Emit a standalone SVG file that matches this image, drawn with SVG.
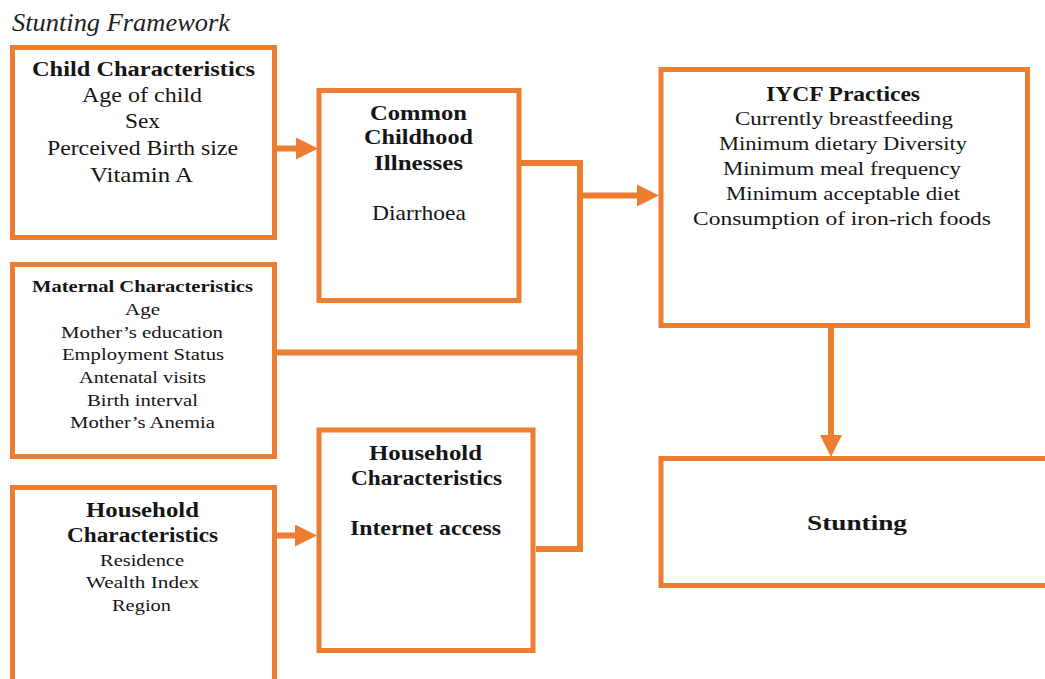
<svg xmlns="http://www.w3.org/2000/svg" width="1045" height="679" viewBox="0 0 1045 679">
<style>
.box{fill:#fff;stroke:#ED7D31;stroke-width:5}
.con{fill:none;stroke:#ED7D31;stroke-width:6;stroke-linejoin:miter}
text{font-family:"Liberation Serif","Times New Roman",serif;fill:#151515;text-anchor:middle}
.b{font-weight:bold}
.r21{font-size:21px}
.b20{font-size:20px;font-weight:bold}
.m{font-size:16.5px}
.i{font-size:18.5px}
.t{font-size:25px;font-style:italic;text-anchor:start;fill:#222}
</style>
<defs>
<marker id="ah" markerUnits="userSpaceOnUse" markerWidth="22" markerHeight="22" viewBox="0 0 22 22" refX="11" refY="11" orient="auto">
<path d="M0,0 L22,11 L0,22 z" fill="#ED7D31"/>
</marker>
</defs>
<rect width="1045" height="679" fill="#fff"/>
<text class="t" x="12" y="31" textLength="218" lengthAdjust="spacingAndGlyphs">Stunting Framework</text>

<g id="connectors">
<path class="con" d="M277,148.5 H307" marker-end="url(#ah)"/>
<path class="con" d="M521,163 H580 V549 H536"/>
<path class="con" d="M277,352.5 H580"/>
<path class="con" d="M580,195.5 H648" marker-end="url(#ah)"/>
<path class="con" d="M277,535.5 H306" marker-end="url(#ah)"/>
<path class="con" d="M831,328 V446" marker-end="url(#ah)"/>
</g>

<g id="child">
<rect class="box" x="12.5" y="47.5" width="262" height="190"/>
<text class="b20" x="143.5" y="76" textLength="223" lengthAdjust="spacingAndGlyphs">Child Characteristics</text>
<text class="r21" x="142" y="102" textLength="120" lengthAdjust="spacingAndGlyphs">Age of child</text>
<text class="r21" x="142.5" y="128" textLength="35" lengthAdjust="spacingAndGlyphs">Sex</text>
<text class="r21" x="142.5" y="155" textLength="191" lengthAdjust="spacingAndGlyphs">Perceived Birth size</text>
<text class="r21" x="141.5" y="182" textLength="103" lengthAdjust="spacingAndGlyphs">Vitamin A</text>
</g>

<g id="illness">
<rect class="box" x="319" y="90.5" width="200" height="210"/>
<text class="b20" x="418.5" y="120" textLength="97" lengthAdjust="spacingAndGlyphs">Common</text>
<text class="b20" x="418.5" y="144" textLength="109" lengthAdjust="spacingAndGlyphs">Childhood</text>
<text class="b20" x="418.5" y="170" textLength="89" lengthAdjust="spacingAndGlyphs">Illnesses</text>
<text class="r21" x="419" y="220" textLength="94" lengthAdjust="spacingAndGlyphs">Diarrhoea</text>
</g>

<g id="maternal">
<rect class="box" x="12.5" y="264.5" width="262" height="192"/>
<text class="m b" x="142.5" y="292" textLength="221" lengthAdjust="spacingAndGlyphs">Maternal Characteristics</text>
<text class="m" x="142.5" y="315" textLength="35" lengthAdjust="spacingAndGlyphs">Age</text>
<text class="m" x="142" y="338" textLength="162" lengthAdjust="spacingAndGlyphs">Mother’s education</text>
<text class="m" x="143" y="360" textLength="162" lengthAdjust="spacingAndGlyphs">Employment Status</text>
<text class="m" x="142.5" y="383" textLength="127" lengthAdjust="spacingAndGlyphs">Antenatal visits</text>
<text class="m" x="142.5" y="406" textLength="111" lengthAdjust="spacingAndGlyphs">Birth interval</text>
<text class="m" x="142.5" y="428" textLength="145" lengthAdjust="spacingAndGlyphs">Mother’s Anemia</text>
</g>

<g id="household-left">
<rect class="box" x="12.5" y="487.5" width="262" height="200"/>
<text class="b20" x="142.5" y="517" textLength="113" lengthAdjust="spacingAndGlyphs">Household</text>
<text class="b20" x="142.5" y="542" textLength="151" lengthAdjust="spacingAndGlyphs">Characteristics</text>
<text class="m" x="142" y="566" textLength="84" lengthAdjust="spacingAndGlyphs">Residence</text>
<text class="m" x="142.5" y="588" textLength="113" lengthAdjust="spacingAndGlyphs">Wealth Index</text>
<text class="m" x="141.5" y="611" textLength="59" lengthAdjust="spacingAndGlyphs">Region</text>
</g>

<g id="household-right">
<rect class="box" x="319" y="430" width="214" height="220.5"/>
<text class="b20" x="425.5" y="460" textLength="113" lengthAdjust="spacingAndGlyphs">Household</text>
<text class="b20" x="426.5" y="485" textLength="151" lengthAdjust="spacingAndGlyphs">Characteristics</text>
<text class="b20" x="425.5" y="535" textLength="151" lengthAdjust="spacingAndGlyphs">Internet access</text>
</g>

<g id="iycf">
<rect class="box" x="661" y="69.5" width="366.5" height="256"/>
<text class="b20" x="843" y="101" textLength="154" lengthAdjust="spacingAndGlyphs">IYCF Practices</text>
<text class="i" x="844" y="125" textLength="218" lengthAdjust="spacingAndGlyphs">Currently breastfeeding</text>
<text class="i" x="843" y="150" textLength="248" lengthAdjust="spacingAndGlyphs">Minimum dietary Diversity</text>
<text class="i" x="842" y="175" textLength="238" lengthAdjust="spacingAndGlyphs">Minimum meal frequency</text>
<text class="i" x="843" y="200" textLength="234" lengthAdjust="spacingAndGlyphs">Minimum acceptable diet</text>
<text class="i" x="842" y="225" textLength="298" lengthAdjust="spacingAndGlyphs">Consumption of iron-rich foods</text>
</g>

<g id="stunting">
<rect class="box" x="661" y="458.5" width="400" height="127"/>
<text class="b" style="font-size:22px" x="857" y="530" textLength="100" lengthAdjust="spacingAndGlyphs">Stunting</text>
</g>
</svg>
